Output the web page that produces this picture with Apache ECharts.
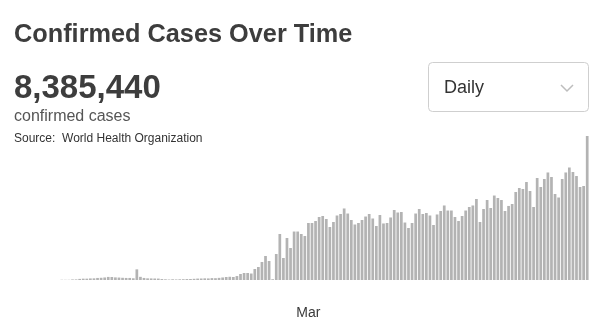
<!DOCTYPE html>
<html>
<head>
<meta charset="utf-8">
<style>
  html, body { margin: 0; padding: 0; background: #ffffff; }
  #chart { width: 600px; height: 330px; }
</style>
<script src="https://cdn.jsdelivr.net/npm/echarts@6/dist/echarts.min.js"></script>
</head>
<body>
<div id="chart"></div>
<script>
// Daily new confirmed cases, one bar per reporting day
const firstDay = '2020-01-22';
const dailyCases = [
  300, 250, 250, 700, 750, 1400, 1700, 1700, 2000, 2100,
  2600, 2800, 3200, 3900, 3800, 3300, 3100, 2800, 2600, 2600,
  2200, 13500, 4000, 2600, 2100, 2000, 1900, 1800, 1200, 900,
  600, 900, 700, 900, 1000, 1200, 1300, 1500, 1800, 1900,
  2100, 2000, 2400, 2300, 2700, 3200, 3800, 4100, 3800, 5000,
  7600, 8900, 8900, 8200, 13900, 16500, 22800, 30400, 24100, 1000,
  32900, 58300, 27900, 53200, 40500, 61400, 61400, 58300, 55700, 72200,
  72200, 74700, 79800, 81100, 77300, 67100, 73500, 81700, 83600, 90600,
  84200, 76000, 70300, 72200, 76000, 80400, 83600, 77900, 68400, 82300,
  71600, 72200, 79200, 88700, 85500, 86100, 72800, 65900, 72200, 84200,
  89900, 83600, 84900, 81700, 69700, 83000, 87400, 94400, 88000, 88000,
  79800, 74700, 81100, 88000, 92500, 94400, 102600, 73500, 89900, 101300,
  91200, 107000, 103900, 101300, 87400, 93800, 96300, 111500, 116500, 115300,
  124100, 112700, 92500, 129200, 117800, 127900, 136200, 130500, 108900, 104500,
  127900, 136200, 142500, 136800, 131700, 117800, 119100, 182400
];
// Month tick shown under the day axis
const monthTicks = { '2020-03-31': 'Mar' };

const totalConfirmed = '8,385,440';
const titleText = 'Confirmed Cases Over Time';
const subtitleText = 'confirmed cases';
const sourceText = 'Source:  World Health Organization';
const periodText = 'Daily';

// Day labels for the category axis
const days = [];
{
  const d0 = new Date(firstDay + 'T00:00:00Z');
  for (let i = 0; i < dailyCases.length; i++) {
    const d = new Date(d0.getTime() + i * 86400000);
    days.push(d.toISOString().slice(0, 10));
  }
}

const FONT = '"Liberation Sans", Arial, Helvetica, sans-serif';
const chart = echarts.init(document.getElementById('chart'), null, { renderer: 'canvas' });

chart.setOption({
  animation: false,
  backgroundColor: '#ffffff',
  grid: { left: 60, right: 11, top: 130, bottom: 50 },
  xAxis: {
    type: 'category',
    data: days,
    boundaryGap: true,
    axisLine: { show: false },
    axisTick: { show: false },
    splitLine: { show: false },
    axisLabel: {
      interval: (idx, val) => monthTicks[val] !== undefined,
      formatter: (val) => monthTicks[val] || '',
      color: '#3a3a3a',
      fontFamily: FONT,
      fontSize: 14,
      margin: 26
    }
  },
  yAxis: {
    type: 'value',
    min: 0,
    max: 190000,
    show: false,
    splitLine: { show: false }
  },
  series: [{
    type: 'bar',
    data: dailyCases,
    barWidth: '76%',
    itemStyle: { color: '#b3b3b3' },
    silent: true
  }],
  graphic: [
    {
      type: 'text', left: 14, top: 23,
      style: { text: titleText, font: 'bold 25.3px ' + FONT, fill: '#3d3d3d' }
    },
    {
      type: 'text', left: 14, top: 72,
      style: { text: totalConfirmed, font: 'bold 33px ' + FONT, fill: '#3d3d3d' }
    },
    {
      type: 'text', left: 14, top: 109,
      style: { text: subtitleText, font: '16px ' + FONT, fill: '#555555' }
    },
    {
      type: 'text', left: 14, top: 133,
      style: { text: sourceText, font: '12px ' + FONT, fill: '#333333' }
    },
    {
      type: 'rect',
      shape: { x: 428.5, y: 62.5, width: 160, height: 49, r: 4 },
      style: { fill: '#ffffff', stroke: '#cfcfcf', lineWidth: 1 }
    },
    {
      type: 'text', left: 444, top: 79,
      style: { text: periodText, font: '18px ' + FONT, fill: '#333333' }
    },
    {
      type: 'polyline',
      shape: { points: [[561, 85], [567, 91], [573, 85]] },
      style: { stroke: '#bdbdbd', lineWidth: 1.5, fill: null }
    }
  ]
});
</script>
</body>
</html>
